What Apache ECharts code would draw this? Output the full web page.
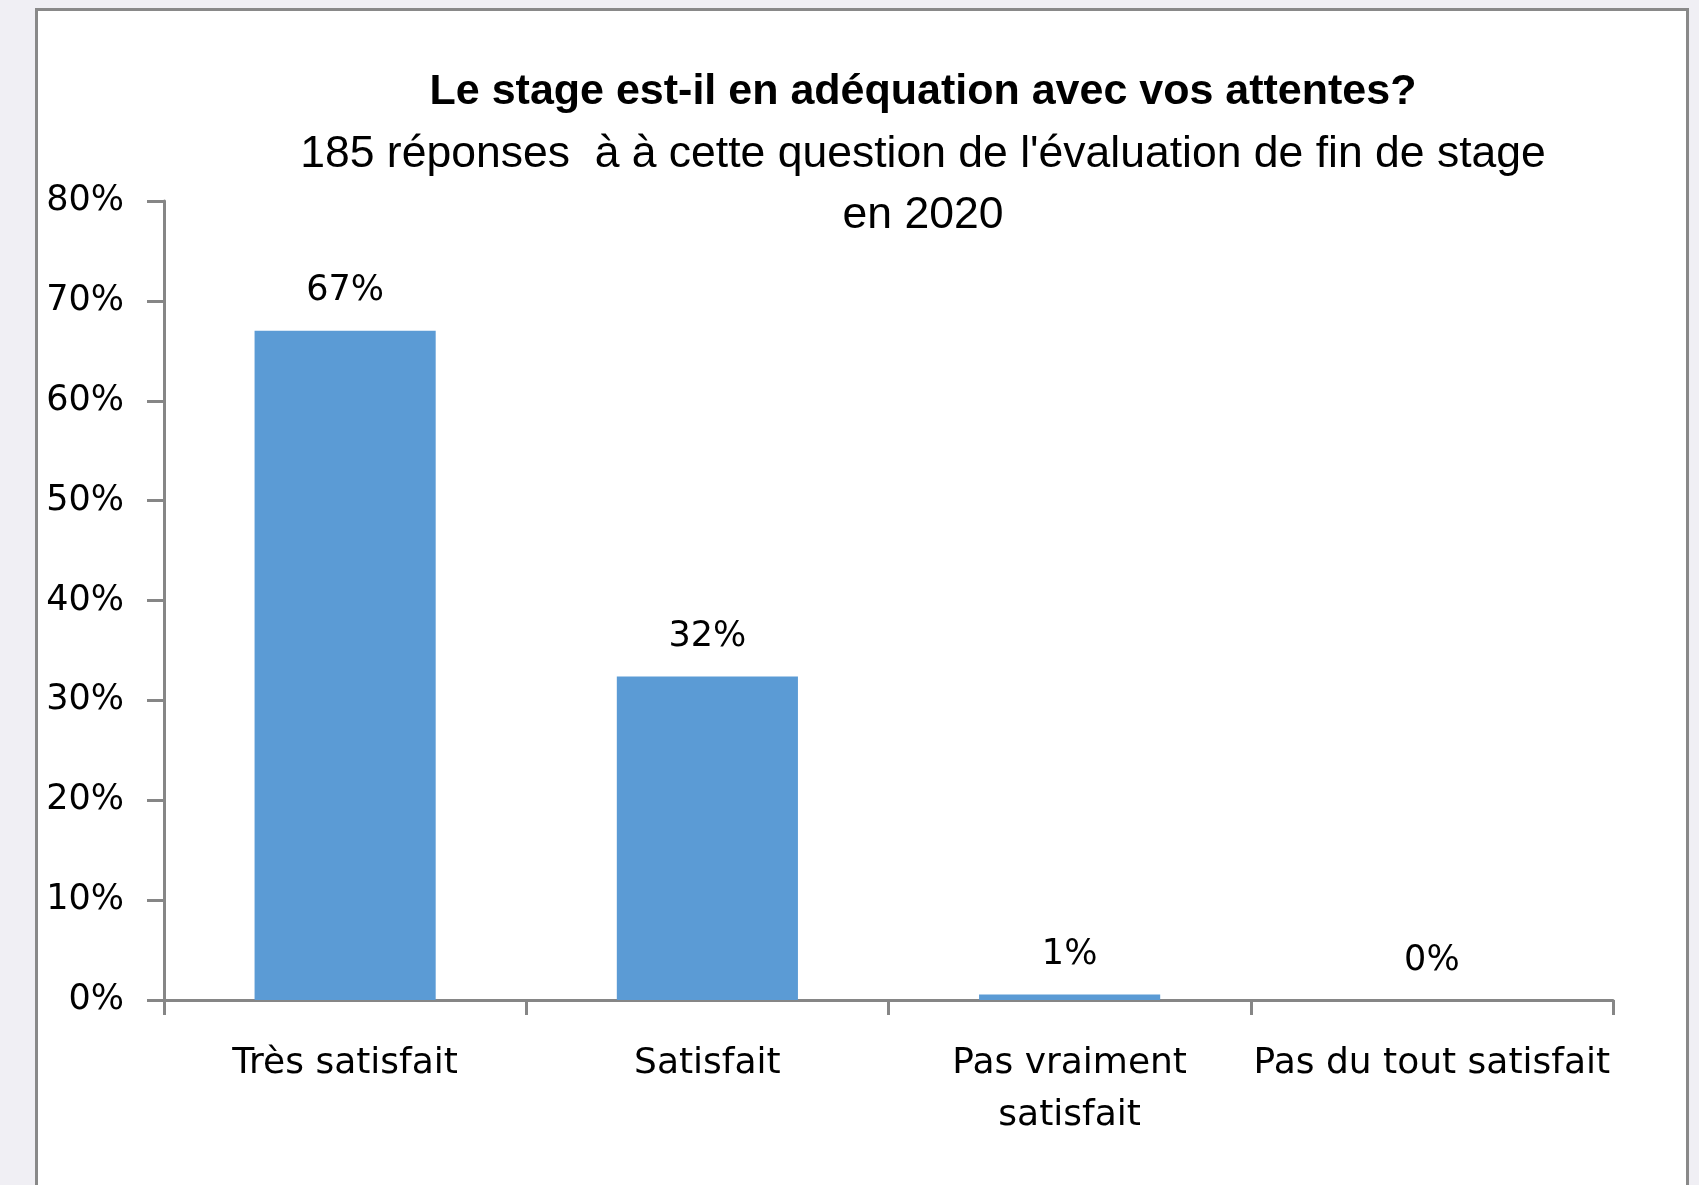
<!DOCTYPE html>
<html>
<head>
<meta charset="utf-8">
<title>Le stage est-il en adéquation avec vos attentes?</title>
<script src="https://cdn.jsdelivr.net/npm/echarts@6/dist/echarts.min.js"></script>
<style>
  html, body { margin: 0; padding: 0; background: #f0eff4; }
  #stage-chart { width: 1699px; height: 1185px; }
</style>
</head>
<body>
<div id="stage-chart"></div>
<script>
// donnees
var categories = ['Très satisfait', 'Satisfait', 'Pas vraiment\nsatisfait', 'Pas du tout satisfait']
var percents = [67.0, 32.4, 0.54, 0]
var yTicks = [0, 80, 10] // min, max, pas

var titleText = 'Le stage est-il en adéquation avec vos attentes?'
var subText = '185 réponses  à à cette question de l\'évaluation de fin de stage\nen 2020'

var axisGrey = '#868686'
var labelFont = 'DejaVu Sans'

var myChart = echarts.init(document.getElementById('stage-chart'))

var option = {
  backgroundColor: '#f0eff4',
  animation: false,
  graphic: [
    {
      type: 'rect',
      z: -1,
      shape: { x: 36.5, y: 9.5, width: 1651, height: 1300 },
      style: { fill: '#ffffff', stroke: '#898989', lineWidth: 3 }
    }
  ],
  title: [
    {
      text: titleText,
      left: 918,
      top: 62,
      textAlign: 'center',
      textStyle: {
        fontFamily: 'Liberation Sans',
        fontWeight: 'bold',
        fontSize: 43,
        lineHeight: 50,
        color: '#000'
      }
    },
    {
      text: subText,
      left: 918,
      top: 119,
      textAlign: 'center',
      textStyle: {
        fontFamily: 'Liberation Sans',
        fontWeight: 'normal',
        fontSize: 44.5,
        lineHeight: 61,
        color: '#000'
      }
    }
  ],
  grid: {
    left: 164,
    right: 86,
    top: 201,
    bottom: 185,
    containLabel: false
  },
  xAxis: {
    type: 'category',
    data: categories,
    axisLine: {
      lineStyle: { color: axisGrey, width: 3 }
    },
    axisTick: {
      show: true,
      length: 15,
      lineStyle: { color: axisGrey, width: 3 }
    },
    axisLabel: {
      interval: 0,
      margin: 38,
      fontFamily: labelFont,
      fontSize: 36,
      lineHeight: 52,
      color: '#000'
    },
    splitLine: { show: false }
  },
  yAxis: {
    type: 'value',
    min: yTicks[0],
    max: yTicks[1],
    interval: yTicks[2],
    axisLine: {
      show: true,
      lineStyle: { color: axisGrey, width: 3 }
    },
    axisTick: {
      show: true,
      length: 17,
      lineStyle: { color: axisGrey, width: 3 }
    },
    axisLabel: {
      formatter: '{value}%',
      margin: 40,
      fontFamily: labelFont,
      fontSize: 35,
      color: '#000'
    },
    splitLine: { show: false }
  },
  series: [
    {
      type: 'bar',
      data: percents,
      barWidth: '50%',
      itemStyle: { color: '#5b9bd5' },
      label: {
        show: true,
        position: 'top',
        distance: 22,
        fontFamily: labelFont,
        fontSize: 35,
        color: '#000',
        formatter: function (p) {
          return Math.round(p.value) + '%'
        }
      }
    }
  ]
}
myChart.setOption(option, true)
</script>
</body>
</html>
